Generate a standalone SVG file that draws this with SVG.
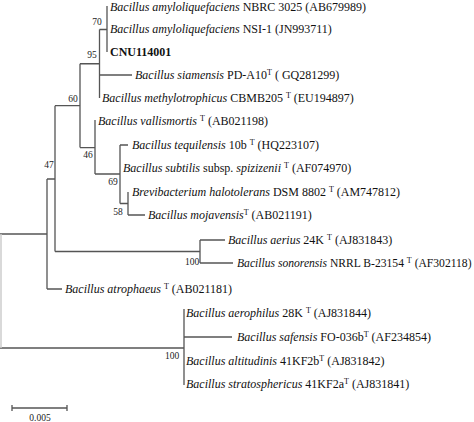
<svg xmlns="http://www.w3.org/2000/svg" width="474" height="422" viewBox="0 0 474 422">
<style>
.t{font-family:"Liberation Serif","Times New Roman",serif;font-size:12px;fill:#111}
.i{font-style:italic}
.b{font-weight:bold}
.s{font-size:8px;baseline-shift:super}
.bs{font-family:"Liberation Serif","Times New Roman",serif;font-size:9.5px;fill:#222;text-anchor:middle}
.e{stroke:#555;stroke-width:1.3;fill:none}
</style>
<rect width="474" height="422" fill="#fff"/>
<g id="connectors">
<path class="e" d="M107,6V52M99.5,29.5H107"/>
<path class="e" d="M99.5,29.5V98M99.5,75H132M80,63.75H99.5"/>
<path class="e" d="M80,63.75V147.6M55,105.7H80"/>
<path class="e" d="M95,120V174M80,147.6H95"/>
<path class="e" d="M120,145V203.5M95,174H120M120,145H128M120,203.5H128"/>
<path class="e" d="M128,192V215M128,215H145"/>
<path class="e" d="M55,105.7V251.5M55,251.5H200M47,179H55"/>
<path class="e" d="M200,240V263M200,240H225M200,263H233"/>
<path class="e" d="M47,179V289M47,289H62M0,234H47"/>
<path class="e" d="M184,309V385M0,348H184M184,337H232"/>
<path d="M1,234V348" stroke="#ccc" stroke-width="1.5"/>
</g>
<g id="leaf1"><text class="t" x="110" y="11"><tspan class="i">Bacillus amyloliquefaciens</tspan> NBRC 3025 (AB679989)</text></g>
<g id="leaf2"><text class="t" x="110" y="33"><tspan class="i">Bacillus amyloliquefaciens</tspan> NSI-1 (JN993711)</text></g>
<g id="leaf3"><text class="t b" x="110" y="56">CNU114001</text></g>
<g id="leaf4"><text class="t" x="135" y="79"><tspan class="i">Bacillus siamensis</tspan> PD-A10<tspan class="s">T</tspan> ( GQ281299)</text></g>
<g id="leaf5"><text class="t" x="102" y="102"><tspan class="i">Bacillus methylotrophicus</tspan> CBMB205 <tspan class="s">T</tspan> (EU194897)</text></g>
<g id="leaf6"><text class="t" x="98" y="125"><tspan class="i">Bacillus vallismortis</tspan> <tspan class="s">T</tspan> (AB021198)</text></g>
<g id="leaf7"><text class="t" x="132" y="149"><tspan class="i">Bacillus tequilensis</tspan> 10b <tspan class="s">T</tspan> (HQ223107)</text></g>
<g id="leaf8"><text class="t" x="123" y="172"><tspan class="i">Bacillus subtilis</tspan> subsp. <tspan class="i">spizizenii</tspan> <tspan class="s">T</tspan> (AF074970)</text></g>
<g id="leaf9"><text class="t" x="132" y="196"><tspan class="i">Brevibacterium halotolerans</tspan> DSM 8802 <tspan class="s">T</tspan> (AM747812)</text></g>
<g id="leaf10"><text class="t" x="148" y="219"><tspan class="i">Bacillus mojavensis</tspan><tspan class="s">T</tspan> (AB021191)</text></g>
<g id="leaf11"><text class="t" x="228" y="244"><tspan class="i">Bacillus aerius</tspan> 24K <tspan class="s">T</tspan> (AJ831843)</text></g>
<g id="leaf12"><text class="t" x="237" y="267" style="font-size:11.6px">
<tspan class="i">Bacillus sonorensis</tspan> NRRL B-23154 <tspan class="s">T</tspan> (AF302118)</text></g>
<g id="leaf13"><text class="t" x="65" y="293"><tspan class="i">Bacillus atrophaeus</tspan> <tspan class="s">T</tspan> (AB021181)</text></g>
<g id="leaf14"><text class="t" x="186" y="317"><tspan class="i">Bacillus aerophilus</tspan> 28K <tspan class="s">T</tspan> (AJ831844)</text></g>
<g id="leaf15"><text class="t" x="237" y="341"><tspan class="i">Bacillus safensis</tspan> FO-036b<tspan class="s">T</tspan> (AF234854)</text></g>
<g id="leaf16"><text class="t" x="186" y="365"><tspan class="i">Bacillus altitudinis</tspan> 41KF2b<tspan class="s">T</tspan> (AJ831842)</text></g>
<g id="leaf17"><text class="t" x="186" y="388"><tspan class="i">Bacillus stratosphericus</tspan> 41KF2a<tspan class="s">T</tspan> (AJ831841)</text></g>
<g id="bootstrap">
<text class="bs" x="97" y="25">70</text>
<text class="bs" x="92" y="58">95</text>
<text class="bs" x="73" y="102">60</text>
<text class="bs" x="88" y="158">46</text>
<text class="bs" x="113" y="185">69</text>
<text class="bs" x="118" y="215">58</text>
<text class="bs" x="49" y="168">47</text>
<text class="bs" x="192" y="265">100</text>
<text class="bs" x="172" y="359">100</text>
</g>
<g id="scalebar">
<path class="e" d="M12,408H67M12,405V411M67,405V411"/>
<text class="bs" x="40" y="421">0.005</text>
</g>
</svg>
